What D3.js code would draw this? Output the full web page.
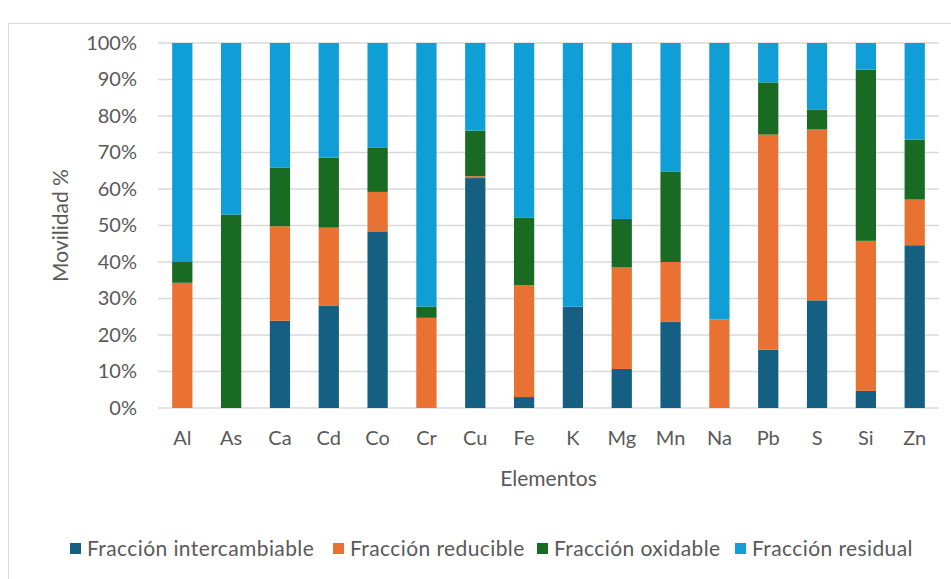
<!DOCTYPE html>
<html><head><meta charset="utf-8">
<script src="https://cdn.jsdelivr.net/npm/d3@7"></script>
<style>body{margin:0;background:#fff}svg{display:block}text{font-family:Lato,"Open Sans",sans-serif}</style>
</head><body><svg id="c" width="951" height="579"></svg>
<script>
const categories = ["Al","As","Ca","Cd","Co","Cr","Cu","Fe","K","Mg","Mn","Na","Pb","S","Si","Zn"];
const intercambiable = [0,0,23.9,28.1,48.4,0,63.0,3.0,27.8,10.7,23.7,0,16.0,29.5,4.7,44.6];
const reducible      = [34.3,0,25.9,21.3,10.8,24.7,0.5,30.7,0,27.8,16.3,24.3,58.9,46.8,41.1,12.5];
const oxidable       = [5.7,53.0,16.0,19.2,12.2,3.1,12.5,18.4,0,13.3,24.7,0,14.3,5.5,46.9,16.4];
const residual       = [60.0,47.0,34.2,31.4,28.6,72.2,24.0,47.9,72.2,48.2,35.3,75.7,10.8,18.2,7.3,26.5];
const seriesNames = ["Fracción intercambiable","Fracción reducible","Fracción oxidable","Fracción residual"];
const colors = ["#156082","#E97132","#196B24","#0F9ED5"];
const yTicks = [0,0.1,0.2,0.3,0.4,0.5,0.6,0.7,0.8,0.9,1];

const svg = d3.select("#c");
svg.append("rect").attr("x",8.5).attr("y",23.5).attr("width",960).attr("height",600)
  .attr("fill","#fff").attr("stroke","#d9d9d9").attr("stroke-width",1);

const m = {l:158, r:939, t:43, b:408};
const x = d3.scaleBand().domain(categories).range([m.l,m.r]).paddingInner(0.585).paddingOuter(0.29);
const y = d3.scaleLinear().domain([0,1]).range([m.b,m.t]);

const rows = categories.map((c,i)=>{
  const tot = intercambiable[i]+reducible[i]+oxidable[i]+residual[i];
  return {cat:c, s0:intercambiable[i]/tot, s1:reducible[i]/tot, s2:oxidable[i]/tot, s3:residual[i]/tot};
});
const stack = d3.stack().keys(["s0","s1","s2","s3"])(rows);

// grid
svg.append("g").selectAll("line").data(yTicks).join("line")
  .attr("x1",m.l).attr("x2",m.r).attr("y1",d=>y(d)).attr("y2",d=>y(d))
  .attr("stroke","#d9d9d9").attr("stroke-width",1.5);

// bars
svg.append("g").selectAll("g").data(stack).join("g").attr("fill",(d,i)=>colors[i])
  .selectAll("rect").data(d=>d).join("rect")
  .attr("x",d=>x(d.data.cat)).attr("width",x.bandwidth())
  .attr("y",d=>y(d[1])).attr("height",d=>Math.max(0,y(d[0])-y(d[1])));

// y axis labels
const yAxis = d3.axisLeft(y).tickValues(yTicks).tickFormat(d3.format(".0%")).tickSize(0).tickPadding(0);
const ya = svg.append("g").attr("transform",`translate(${137},0)`).call(yAxis);
ya.select(".domain").remove();
ya.selectAll("text").attr("fill","#595959").style("font-size","20px");

// x axis labels
const xAxis = d3.axisBottom(x).tickSize(0).tickPadding(0);
const xa = svg.append("g").attr("transform",`translate(0,${431})`).call(xAxis);
xa.select(".domain").remove();
xa.selectAll("text").attr("fill","#595959").style("font-size","20px");

svg.append("text").attr("x",(m.l+m.r)/2).attr("y",486).attr("text-anchor","middle")
  .attr("fill","#595959").style("font-size","21px").text("Elementos");
svg.append("text").attr("transform",`translate(68,${(m.t+m.b)/2}) rotate(-90)`).attr("text-anchor","middle")
  .attr("fill","#595959").style("font-size","21px").text("Movilidad %");

// legend
const legX = [70,333,537,735];
const lg = svg.append("g").selectAll("g").data(seriesNames).join("g")
  .attr("transform",(d,i)=>`translate(${legX[i]},549)`);
lg.append("rect").attr("x",0).attr("y",-6).attr("width",11).attr("height",11).attr("fill",(d,i)=>colors[i]);
lg.append("text").attr("x",17).attr("y",7).attr("fill","#595959").style("font-size","21px")
  .style("letter-spacing","0.4px").text(d=>d);
</script></body></html>
